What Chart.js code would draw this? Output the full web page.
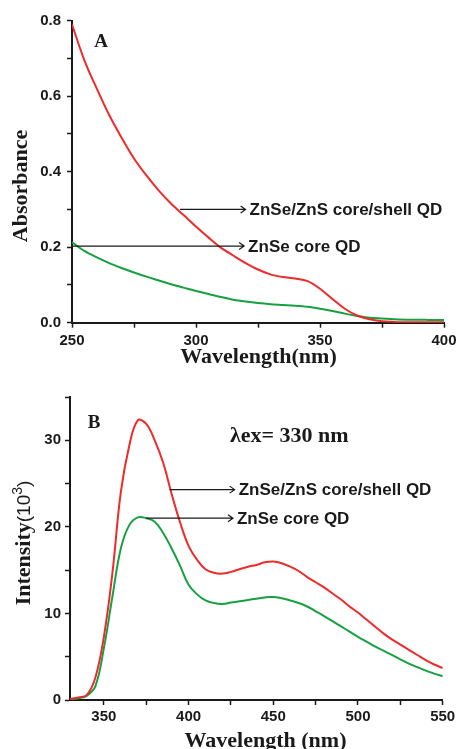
<!DOCTYPE html>
<html>
<head>
<meta charset="utf-8">
<script src="https://cdn.jsdelivr.net/npm/chart.js@4"></script>
<style>
  body { margin: 0; background: #fff; }
  #wrap { position: relative; width: 459px; height: 749px; overflow: hidden; }
  canvas { position: absolute; left: 0; }
  #chartA { top: 0; }
  #chartB { top: 375px; }
</style>
</head>
<body>
<div id="wrap">
  <canvas id="chartA" width="459" height="375"></canvas>
  <canvas id="chartB" width="459" height="374"></canvas>
</div>
<script>
// A: absorbance spectra
const wavelengthA = [250, 255, 260, 265, 270, 275, 280, 285, 290, 295, 300, 305, 310, 315, 320, 325,
  330, 335, 340, 345, 350, 355, 360, 365, 370, 375, 380, 385, 390, 395, 400];
const absShell = [0.79, 0.695, 0.62, 0.55, 0.49, 0.435, 0.39, 0.35, 0.315, 0.285, 0.255, 0.226, 0.199, 0.178, 0.158, 0.141,
  0.128, 0.121, 0.117, 0.11, 0.09, 0.063, 0.037, 0.019, 0.009, 0.004, 0.002, 0.001, 0.001, 0.001, 0.001];
const absCore = [0.213, 0.19, 0.173, 0.158, 0.145, 0.133, 0.122, 0.112, 0.102, 0.093, 0.084, 0.076, 0.068, 0.061, 0.056, 0.052,
  0.049, 0.047, 0.045, 0.042, 0.037, 0.031, 0.024, 0.018, 0.013, 0.011, 0.009, 0.008, 0.008, 0.007, 0.007];

// B: PL spectra, intensity in 10^3
const wavelengthB = [330, 335, 340, 345, 350, 355, 360, 365, 370, 375, 380, 385, 390, 395, 400,
  405, 410, 415, 420, 425, 430, 435, 440, 445, 450, 455, 460, 465, 470, 475, 480, 485, 490, 495, 500,
  505, 510, 515, 520, 525, 530, 535, 540, 545, 550];
const plShell = [0.1, 0.3, 0.6, 2.6, 7.3, 14.6, 24.0, 29.4, 32.3, 31.9, 30.0, 27.4, 23.8, 20.5, 17.8,
  16.2, 15.1, 14.7, 14.6, 14.8, 15.1, 15.4, 15.6, 15.9, 16.0, 15.8, 15.4, 14.9, 14.2, 13.6, 13.0, 12.3, 11.6, 10.8, 10.1,
  9.3, 8.5, 7.7, 7.0, 6.4, 5.8, 5.2, 4.6, 4.1, 3.7];
const plCore = [0.1, 0.2, 0.5, 1.6, 6.0, 11.9, 17.5, 20.2, 21.1, 21.0, 20.6, 19.3, 17.5, 15.5, 13.3,
  12.2, 11.5, 11.2, 11.1, 11.25, 11.4, 11.55, 11.7, 11.85, 11.9, 11.75, 11.5, 11.2, 10.8, 10.25, 9.7, 9.1, 8.5, 7.9, 7.3,
  6.75, 6.2, 5.7, 5.2, 4.7, 4.2, 3.8, 3.4, 3.05, 2.75];

const RED = '#ee2a2a';
const GREEN = '#17a040';
const INK = '#1a1a1a';
const SANS = '"Liberation Sans", Arial, sans-serif';
const SERIF = '"Liberation Serif", "Times New Roman", serif';

function toPoints(xs, ys) {
  return xs.map((x, i) => ({ x: x, y: ys[i] }));
}

// panel letter, axis titles, arrows with labels
const panelText = {
  id: 'panelText',
  afterDraw(chart, args, opts) {
    const ctx = chart.ctx;
    const sx = chart.scales.x, sy = chart.scales.y;
    ctx.save();
    ctx.fillStyle = INK;
    ctx.strokeStyle = INK;
    ctx.textBaseline = 'alphabetic';

    ctx.textAlign = 'center';
    ctx.font = 'bold 19px ' + SERIF;
    ctx.fillText(opts.letter.text, opts.letter.x, opts.letter.y);
    ctx.font = 'bold 22px ' + SERIF;
    ctx.fillText(opts.xTitle.text, opts.xTitle.x, opts.xTitle.y);

    // rotated y title, may be built from several pieces
    ctx.save();
    ctx.translate(opts.yTitle.x, opts.yTitle.y);
    ctx.rotate(-Math.PI / 2);
    ctx.textAlign = 'left';
    let total = 0;
    opts.yTitle.parts.forEach(p => { ctx.font = p.font; total += ctx.measureText(p.text).width; });
    let cx = -total / 2;
    opts.yTitle.parts.forEach(p => {
      ctx.font = p.font;
      ctx.fillText(p.text, cx, -(p.rise || 0));
      cx += ctx.measureText(p.text).width;
    });
    ctx.restore();

    (opts.extra || []).forEach(t => {
      ctx.font = t.font;
      ctx.textAlign = 'left';
      ctx.fillText(t.text, t.x, t.y);
    });

    ctx.lineWidth = 1.2;
    ctx.font = 'bold 17px ' + SANS;
    ctx.textAlign = 'left';
    ctx.textBaseline = 'middle';
    opts.arrows.forEach(a => {
      const x0 = sx.getPixelForValue(a.x0);
      const x1 = sx.getPixelForValue(a.x1);
      const y = sy.getPixelForValue(a.y);
      ctx.beginPath();
      ctx.moveTo(x0, y);
      ctx.lineTo(x1, y);
      ctx.moveTo(x1 - 5, y - 3.5);
      ctx.lineTo(x1, y);
      ctx.lineTo(x1 - 5, y + 3.5);
      ctx.stroke();
      ctx.fillText(a.text, x1 + 4, y + 1);
    });
    ctx.restore();
  }
};

function axisStyle(pad) {
  return {
    border: { display: true, color: INK, width: 2 },
    grid: { display: true, drawOnChartArea: false, drawTicks: true, tickLength: 5, tickColor: INK, tickWidth: 1.5 },
    ticks: { color: INK, padding: pad, autoSkip: false, maxRotation: 0, font: { family: SANS, weight: 'bold', size: 15 } }
  };
}

function makeChart(id, c) {
  const xs = axisStyle(c.xPad), ys = axisStyle(c.yPad);
  const line = { borderWidth: 2, pointRadius: 0, fill: false, tension: c.tension, cubicInterpolationMode: c.interp };
  return new Chart(document.getElementById(id), {
    type: 'line',
    data: {
      datasets: [
        Object.assign({ data: toPoints(c.x, c.shell), borderColor: RED }, line),
        Object.assign({ data: toPoints(c.x, c.core), borderColor: GREEN }, line)
      ]
    },
    options: {
      responsive: false,
      animation: false,
      events: [],
      layout: { padding: c.padding },
      plugins: { legend: { display: false }, tooltip: { enabled: false }, panelText: c.text },
      scales: {
        x: Object.assign(xs, {
          type: 'linear', min: c.xMin, max: c.xMax,
          ticks: Object.assign(xs.ticks, { stepSize: 25, includeBounds: false, callback: v => (v % 50 === 0 ? v : '') }),
          afterFit(s) { s.height = c.xHeight; s.paddingLeft = 0; s.paddingRight = 0; }
        }),
        y: Object.assign(ys, {
          min: 0, max: c.yMax,
          ticks: Object.assign(ys.ticks, { stepSize: c.yStep, callback: c.yLabel }),
          afterFit(s) { s.width = c.yWidth; s.paddingTop = 0; s.paddingBottom = 0; }
        })
      }
    },
    plugins: [panelText]
  });
}

makeChart('chartA', {
  x: wavelengthA, shell: absShell, core: absCore,
  xMin: 250, xMax: 400, yMax: 0.8, yStep: 0.1, tension: 0, interp: 'monotone',
  yLabel: v => { const k = Math.round(v * 10); return k % 2 === 0 ? (k / 10).toFixed(1) : ''; },
  padding: { left: 0, right: 15, top: 20.7, bottom: 0 },
  xHeight: 52.3, yWidth: 72, xPad: 4, yPad: 6,
  text: {
    letter: { text: 'A', x: 101, y: 47 },
    xTitle: { text: 'Wavelength(nm)', x: 258.5, y: 363 },
    yTitle: { x: 27, y: 186, parts: [{ text: 'Absorbance', font: 'bold 22px ' + SERIF }] },
    arrows: [
      { x0: 293.5, x1: 320, y: 0.30, text: 'ZnSe/ZnS core/shell QD' },
      { x0: 250, x1: 319.4, y: 0.203, text: 'ZnSe core QD' }
    ]
  }
});

makeChart('chartB', {
  x: wavelengthB, shell: plShell, core: plCore,
  xMin: 330, xMax: 550, yMax: 35, yStep: 5, tension: 0.4, interp: 'default',
  yLabel: v => (v % 10 === 0 ? v : ''),
  padding: { left: 0, right: 16.3, top: 22, bottom: 0 },
  xHeight: 49, yWidth: 70, xPad: 3, yPad: 4,
  text: {
    letter: { text: 'B', x: 94, y: 53 },
    xTitle: { text: 'Wavelength (nm)', x: 265.5, y: 372 },
    yTitle: { x: 30, y: 168, parts: [
      { text: 'Intensity', font: 'bold 22px ' + SERIF },
      { text: '(10', font: '19px ' + SANS },
      { text: '3', font: '14px ' + SANS, rise: 8 },
      { text: ')', font: '19px ' + SANS }
    ] },
    extra: [{ text: 'λex= 330 nm', x: 230, y: 67, font: 'bold 22px ' + SERIF }],
    arrows: [
      { x0: 388.8, x1: 427.2, y: 24.3, text: 'ZnSe/ZnS core/shell QD' },
      { x0: 375, x1: 426.2, y: 21.0, text: 'ZnSe core QD' }
    ]
  }
});
</script>
</body>
</html>
